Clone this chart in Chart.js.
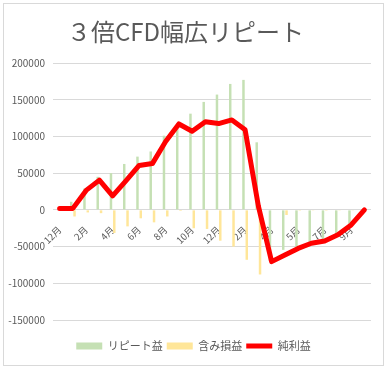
<!DOCTYPE html>
<html lang="ja">
<head>
<meta charset="utf-8">
<script src="https://cdn.jsdelivr.net/npm/chart.js@4.4.1/dist/chart.umd.min.js"></script>
<style>
  html, body { margin: 0; padding: 0; background: #fff; }
  #wrap { position: relative; width: 388px; height: 367px; }
  #frame { position: absolute; left: 3px; top: 3px; width: 381px; height: 363px; border: 1px solid #d9d9d9; box-sizing: border-box; }
  canvas { position: absolute; left: 0; top: 0; }
</style>
</head>
<body>
<div id="wrap">
  <div id="frame"></div>
  <canvas id="chart" width="388" height="367"></canvas>
</div>
<script>
const months = ['12月', '1月', '2月', '3月', '4月', '5月', '6月', '7月', '8月', '9月', '10月', '11月',
                '12月', '1月', '2月', '3月', '4月', '4月', '5月', '6月', '7月', '8月', '9月', '10月'];
const repeatProfit = [0, 11000, 29000, 45000, 50000, 62500, 72500, 79500, 101000, 118000, 131000, 147000,
                      157000, 171500, 177000, 92000, -70000, -54500, -51000, -44500, -41000, -33000, -19500, 0];
const unrealized = [0, -9000, -3500, -4500, -31500, -22500, -11500, -17000, -9000, -1500, -25000, -26000,
                    -42000, -50000, -68000, -88000, 0, -7000, -1200, -1000, -1200, -1000, -1000, 0];
const netProfit = [2000, 2000, 26500, 40500, 19000, 39500, 60500, 63000, 93000, 117000, 107000, 120000,
                   117500, 122500, 109000, 5000, -70500, -61500, -52500, -45500, -42500, -34000, -20500, 0];
const yTicks = [-150000, -100000, -50000, 0, 50000, 100000, 150000, 200000];

const JP = '"Noto Sans CJK JP", "Noto Sans", sans-serif';
const GREY = '#595959';

// shift legend a bit to the right, like the original
const legendShift = {
    id: 'legendShift',
    afterLayout(chart) {
        chart.legend.left += 8;
        chart.legend.right += 8;
    }
};

new Chart(document.getElementById('chart'), {
    type: 'bar',
    data: {
        labels: months,
        datasets: [
            {
                label: 'リピート益',
                data: repeatProfit,
                backgroundColor: '#C5E0B4',
                categoryPercentage: 0.5,
                barPercentage: 0.75,
                order: 2
            },
            {
                label: '含み損益',
                data: unrealized,
                backgroundColor: '#FFE699',
                categoryPercentage: 0.5,
                barPercentage: 0.75,
                order: 2
            },
            {
                type: 'line',
                label: '純利益',
                data: netProfit,
                borderColor: '#FF0000',
                backgroundColor: '#FF0000',
                borderWidth: 5,
                borderCapStyle: 'round',
                borderJoinStyle: 'round',
                pointRadius: 0,
                tension: 0,
                fill: false,
                order: 1
            }
        ]
    },
    options: {
        responsive: false,
        animation: false,
        devicePixelRatio: 1,
        layout: { padding: { left: 0, right: 17, top: 0, bottom: 5.5 } },
        plugins: {
            title: {
                display: true,
                text: '３倍CFD幅広リピート',
                color: GREY,
                font: { family: JP, size: 24, weight: 'normal' },
                padding: { top: 17.6, bottom: 16.6 }
            },
            legend: {
                position: 'bottom',
                labels: {
                    color: GREY,
                    font: { family: JP, size: 11 },
                    usePointStyle: true,
                    pointStyleWidth: 26,
                    boxHeight: 7,
                    padding: 4,
                    sort: (a, b) => a.datasetIndex - b.datasetIndex,
                    generateLabels(chart) {
                        const items = Chart.defaults.plugins.legend.labels.generateLabels(chart);
                        items.forEach(it => { it.pointStyle = it.datasetIndex === 2 ? 'line' : 'rect'; });
                        return items;
                    }
                }
            },
            tooltip: { enabled: false }
        },
        scales: {
            x: {
                position: { y: 0 },
                grid: { display: false },
                border: { display: false },
                ticks: {
                    autoSkip: false,
                    minRotation: 45,
                    maxRotation: 45,
                    padding: 6,
                    color: GREY,
                    font: { family: JP, size: 9.5 },
                    callback: (v, i) => (i % 2 === 0 ? months[i] : '')
                }
            },
            xgap: {
                type: 'category',
                position: 'bottom',
                grid: { display: false },
                border: { display: false },
                ticks: { display: false },
                afterFit: s => { s.height = 16.5; }
            },
            y: {
                min: yTicks[0],
                max: yTicks[yTicks.length - 1],
                afterBuildTicks: s => { s.ticks = yTicks.map(v => ({ value: v })); },
                grid: { color: '#D9D9D9', drawTicks: false },
                border: { display: false },
                afterFit: s => { s.width = 53; },
                ticks: {
                    padding: 8,
                    color: GREY,
                    font: { family: JP, size: 10 },
                    callback: v => String(v)
                }
            }
        }
    },
    plugins: [legendShift]
});
</script>
</body>
</html>
